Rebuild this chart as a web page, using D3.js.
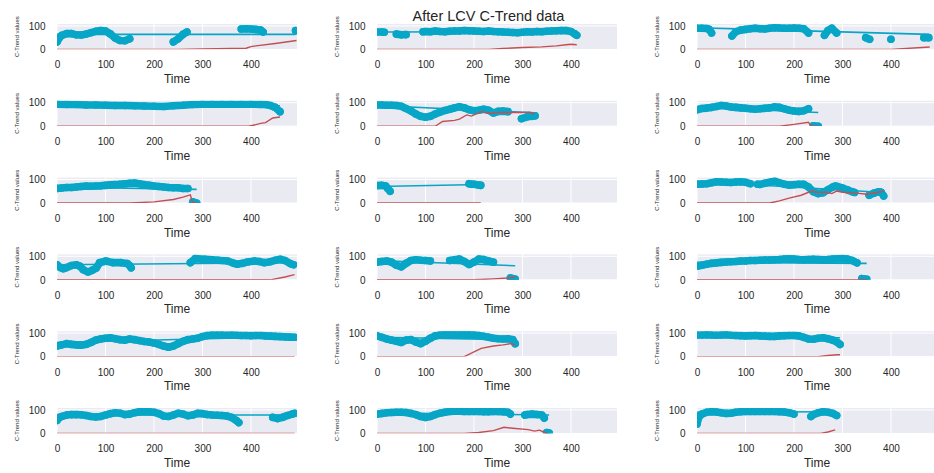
<!DOCTYPE html>
<html>
<head>
<meta charset="utf-8">
<script src="https://cdnjs.cloudflare.com/ajax/libs/d3/7.8.5/d3.min.js"></script>
<style>
  body { margin: 0; background: #fff; }
  text { font-family: "Liberation Sans", Arial, sans-serif; fill: #262626; }
</style>
</head>
<body>
<svg id="chart" width="934" height="473"></svg>
<script>
// Axis ticks and limits shared by every panel
const xTicks = [0, 100, 200, 300, 400];
const yTicks = [0, 100];
const xLimits = [0, 495];
const yLimits = [0.5, 108];

// C-Trend samples per panel: [time, value]; null marks a gap in the record
const ctrend_1_1 = [[0,32],[5,50],[10,60],[20,67],[30,67],[40,62],[50,61],[60,65],[70,71],[80,77],[90,80],[100,78],[110,66],[120,48],[130,38],[140,37],[150,45],null,[240,32],[250,45],[260,64],[268,74],null,[380,87],[390,88],[400,87],[410,85],[420,82],[425,74],null,[492,80]];
const ctrend_1_2 = [[0,74],[10,74],[15,73],null,[40,65],[50,62],[60,63],null,[95,75],[100,76],[110,75],[120,78],[130,76],[140,75],[150,77],[160,78],[170,78],[180,80],[190,79],[200,78],[210,77],[220,76],[230,78],[240,76],[250,75],[260,74],[270,73],[280,72],[290,71],[300,73],[310,75],[320,74],[330,76],[340,75],[350,77],[360,78],[370,79],[380,80],[390,80],[400,76],[408,66],[412,60]];
const ctrend_1_3 = [[0,90],[10,90],[20,89],[25,85],[30,70],null,[72,57],[80,75],[90,82],[100,85],[110,88],[120,90],[130,88],[140,87],[150,90],[160,92],[170,91],[180,90],[190,90],[200,91],[210,90],[220,88],[230,70],null,[263,60],[270,80],[278,90],[288,70],null,[348,50],[356,43],null,[400,43],null,[468,50],[478,50]];
const ctrend_2_1 = [[0,94],[20,93],[40,92],[60,90],[80,90],[100,89],[120,88],[140,88],[160,87],[180,86],[200,85],[220,84],[240,87],[260,89],[280,92],[300,94],[320,94],[340,94],[360,94],[380,94],[400,94],[420,93],[430,92],[440,88],[450,80],[460,62]];
const ctrend_2_2 = [[0,90],[10,90],[20,89],[30,89],[40,88],[50,85],[60,75],[70,65],[80,52],[90,42],[100,38],[110,42],[120,52],[130,60],[140,67],[150,72],[160,78],[170,83],[180,78],[190,70],[200,66],[210,68],[220,72],[230,68],[240,56],[250,63],[260,64],[270,62],null,[298,32],[310,40],[320,42],[326,44]];
const ctrend_2_3 = [[0,70],[10,75],[20,77],[30,80],[40,84],[50,88],[60,86],[70,82],[80,80],[90,78],[100,76],[110,74],[120,72],[130,74],[140,76],[150,78],[160,82],[170,80],[180,74],[190,68],[200,65],[210,63],[220,66],[230,74],null,[240,2],[250,0]];
const ctrend_3_1 = [[0,62],[10,64],[20,66],[30,66],[40,68],[50,70],[60,72],[70,71],[80,72],[90,73],[100,75],[110,77],[120,78],[130,80],[140,82],[150,84],[160,85],[170,82],[180,78],[190,75],[200,72],[210,70],[220,68],[230,66],[240,65],[250,65],[260,62],[270,62],null,[280,5],[288,0]];
const ctrend_3_2 = [[0,74],[10,75],[18,72],[22,62],[27,50],null,[190,82],[195,80],[200,80],[210,76],[214,75]];
const ctrend_3_3 = [[0,80],[10,81],[20,82],[30,86],[40,90],[50,89],[60,88],[70,87],[80,89],[90,90],[100,88],[110,82],null,[125,80],[130,79],[140,84],[150,88],[160,93],[170,86],[180,80],[190,76],[200,78],[210,80],[220,80],[230,68],[240,48],[250,40],[260,44],[270,56],[280,68],[285,72],[290,70],[300,64],[310,56],[320,48],[325,45],null,[355,33],[365,42],[375,48],[380,46],[385,30]];
const ctrend_4_1 = [[0,64],[7,52],[13,47],[20,52],[30,61],[40,64],[47,58],[54,43],[64,33],[72,40],[81,50],[88,73],[101,80],[115,73],[132,73],[145,69],[150,60],[153,51],null,[275,73],[285,90],[305,87],[320,85],[332,83],[352,80],[365,70],[372,66],[383,70],[393,76],[407,80],[417,78],[427,73],[440,77],[450,83],[461,87],[470,82],[481,69],[488,64]];
const ctrend_4_2 = [[0,75],[10,78],[20,80],[30,75],[40,62],[50,55],[60,70],[70,82],[80,85],[90,83],[100,82],[110,80],null,[150,82],[160,85],[170,88],[180,78],[190,65],[200,75],[210,88],[220,86],[230,80],[240,75],null,[275,8],[280,5],[285,3]];
const ctrend_4_3 = [[0,58],[10,62],[20,66],[30,70],[40,72],[50,74],[60,76],[70,77],[80,78],[90,80],[100,80],[110,82],[120,82],[130,83],[140,84],[150,84],[160,85],[170,86],[180,88],[190,89],[200,88],[210,86],[220,85],[230,86],[240,87],[250,86],[260,85],[270,86],[280,88],[290,89],[300,90],[310,88],[320,82],[330,72],null,[340,5],[345,3],[350,2]];
const ctrend_5_1 = [[0,45],[10,50],[20,55],[30,52],[40,50],[50,48],[60,52],[70,60],[80,70],[90,75],[100,78],[110,80],[120,76],[130,72],[140,70],[150,75],[160,72],[170,68],[180,64],[190,62],[200,58],[210,52],[220,45],[230,40],[240,45],[250,55],[260,65],[270,72],[280,75],[290,78],[300,85],[310,90],[320,92],[330,92],[340,92],[350,91],[360,92],[370,91],[380,90],[390,90],[400,89],[410,90],[420,90],[430,88],[440,87],[450,86],[460,85],[470,84],[480,83],[490,82]];
const ctrend_5_2 = [[0,88],[10,82],[20,75],[30,70],[40,65],[50,60],[60,70],[70,72],[80,62],[90,55],[100,65],[110,78],[120,88],[130,92],[140,94],[150,94],[160,93],[170,93],[180,94],[190,93],[200,92],[210,90],[220,86],[230,82],[240,78],[250,76],[260,75],[270,76],[280,72],[285,55]];
const ctrend_5_3 = [[0,92],[10,92],[20,93],[30,92],[40,91],[50,92],[60,93],[70,91],[80,90],[90,89],[100,88],[110,89],[120,90],[130,88],[140,87],[150,86],[160,86],[170,88],[180,89],[190,90],[200,90],[210,88],[220,82],[230,75],[240,74],[250,78],[260,80],[270,76],[280,70],[290,60],[295,52]];
const ctrend_6_1 = [[0,55],[5,68],[10,72],[20,78],[30,80],[40,80],[50,79],[60,76],[70,72],[80,70],[90,72],[100,78],[110,84],[120,88],[130,86],[140,80],[150,82],[160,88],[170,92],[180,93],[190,92],[200,90],[210,84],[220,74],[230,72],[240,78],[250,86],[260,82],[270,75],[280,78],[290,85],[300,84],[310,80],[320,78],[330,77],[340,76],[350,74],[360,68],[370,55],[375,46],null,[445,68],[455,63],[465,68],[475,76],[485,82],[490,85]];
const ctrend_6_2 = [[0,82],[10,85],[20,88],[30,89],[40,90],[50,90],[60,89],[70,85],[80,80],[90,72],[100,68],[110,72],[120,80],[130,86],[140,90],[150,93],[160,94],[170,94],[180,93],[190,93],[200,93],[210,93],[220,92],[230,92],[240,93],[250,93],[260,92],[270,90],[275,82],null,[305,78],[310,80],[320,82],[330,80],[340,78],[345,65],null,[350,4],[355,2]];
const ctrend_6_3 = [[0,40],[3,65],[6,75],[10,82],[20,90],[30,92],[40,91],[50,88],[60,85],[70,86],[80,90],[90,92],[100,93],[110,93],[120,93],[130,93],[140,93],[150,93],[160,93],[170,92],[180,91],[190,88],[200,82],null,[235,72],[240,80],[250,88],[260,92],[270,90],[280,85],[288,76]];

// LCV curves per panel: [time, value]
const lcv_1_1 = [[0,0],[250,0],[300,2],[390,5],[400,12],[410,15],[450,25],[494,38]];
const lcv_1_2 = [[0,0],[230,0],[260,4],[300,8],[340,11],[370,15],[390,20],[400,22],[412,20]];
const lcv_1_3 = [[0,0],[400,0],[480,10]];
const lcv_2_1 = [[0,0],[395,0],[405,4],[420,12],[430,15],[445,35],[460,39]];
const lcv_2_2 = [[0,0],[120,0],[135,20],[160,25],[170,30],[185,48],[195,43],[215,62],[235,54],[250,59],[270,58],[300,58],[315,60],[325,52]];
const lcv_2_3 = [[0,0],[170,0],[200,8],[230,17],[235,0],[250,0]];
const lcv_3_1 = [[0,0],[150,0],[200,5],[240,15],[260,25],[275,35],[280,0],[288,0]];
const lcv_3_2 = [[0,0],[214,0]];
const lcv_3_3 = [[0,0],[150,0],[170,9],[190,21],[215,33],[235,50],[255,44],[265,47],[278,40],[288,51],[300,46],[325,43],[350,37],[385,50]];
const lcv_4_1 = [[0,0],[440,0],[470,12],[490,22]];
const lcv_4_2 = [[0,0],[200,0],[240,4],[270,8],[285,12]];
const lcv_4_3 = [[0,0],[350,0]];
const lcv_5_1 = [[0,0],[490,0]];
const lcv_5_2 = [[0,0],[180,0],[200,20],[215,35],[240,45],[260,50],[275,55],[285,50]];
const lcv_5_3 = [[0,0],[250,0],[270,5],[290,8],[295,8]];
const lcv_6_1 = [[0,0],[490,0]];
const lcv_6_2 = [[0,0],[180,0],[210,4],[240,12],[262,26],[280,22],[312,16],[325,10],[335,14],[346,4],[352,0]];
const lcv_6_3 = [[0,0],[255,0],[270,6],[285,15]];

// Fitted trend line per panel: value at first and last sample time
const fit_1_1 = [64, 64];
const fit_1_2 = [74, 76];
const fit_1_3 = [92, 64];
const fit_2_1 = [90, 89];
const fit_2_2 = [88, 57];
const fit_2_3 = [82, 58];
const fit_3_1 = [68, 58];
const fit_3_2 = [70, 79];
const fit_3_3 = [92, 45];
const fit_4_1 = [64, 73];
const fit_4_2 = [82, 60];
const fit_4_3 = [74, 70];
const fit_5_1 = [60, 85];
const fit_5_2 = [82, 72];
const fit_5_3 = [92, 80];
const fit_6_1 = [78, 78];
const fit_6_2 = [88, 78];
const fit_6_3 = [90, 92];

const panels = [
  [ctrend_1_1, lcv_1_1, fit_1_1], [ctrend_1_2, lcv_1_2, fit_1_2], [ctrend_1_3, lcv_1_3, fit_1_3],
  [ctrend_2_1, lcv_2_1, fit_2_1], [ctrend_2_2, lcv_2_2, fit_2_2], [ctrend_2_3, lcv_2_3, fit_2_3],
  [ctrend_3_1, lcv_3_1, fit_3_1], [ctrend_3_2, lcv_3_2, fit_3_2], [ctrend_3_3, lcv_3_3, fit_3_3],
  [ctrend_4_1, lcv_4_1, fit_4_1], [ctrend_4_2, lcv_4_2, fit_4_2], [ctrend_4_3, lcv_4_3, fit_4_3],
  [ctrend_5_1, lcv_5_1, fit_5_1], [ctrend_5_2, lcv_5_2, fit_5_2], [ctrend_5_3, lcv_5_3, fit_5_3],
  [ctrend_6_1, lcv_6_1, fit_6_1], [ctrend_6_2, lcv_6_2, fit_6_2], [ctrend_6_3, lcv_6_3, fit_6_3]
];

// Layout
const colLeft = [57, 377, 697];
const rowTop = i => 24 + 76.8 * i;
const W = 240, H = 25.3;
const CYAN = "#07a6c7", RED = "#c44e52", BG = "#eaeaf2";

const svg = d3.select("#chart");
const x = d3.scaleLinear().domain(xLimits).range([0, W]);
const y = d3.scaleLinear().domain(yLimits).range([H, 0]);

const bandLine = d3.line().defined(d => d !== null).x(d => x(d[0])).y(d => y(d[1]));
const thinLine = d3.line().x(d => x(d[0])).y(d => y(d[1]));

panels.forEach(([series, lcv, fit], i) => {
  const r = Math.floor(i / 3), c = i % 3;
  const g = svg.append("g").attr("transform", `translate(${colLeft[c]},${rowTop(r)})`);

  g.append("rect").attr("width", W).attr("height", H).attr("fill", BG);

  // white grid
  g.selectAll(".vg").data(xTicks).join("line")
    .attr("x1", d => x(d)).attr("x2", d => x(d)).attr("y1", 0).attr("y2", H)
    .attr("stroke", "#fff").attr("stroke-width", 1);
  g.selectAll(".hg").data(yTicks).join("line")
    .attr("x1", 0).attr("x2", W).attr("y1", d => y(d)).attr("y2", d => y(d))
    .attr("stroke", "#fff").attr("stroke-width", 1);

  const clipId = "clip" + i;
  g.append("clipPath").attr("id", clipId).append("rect").attr("width", W).attr("height", H);
  const plot = g.append("g").attr("clip-path", `url(#${clipId})`);

  // dense C-Trend markers
  plot.append("path").attr("d", bandLine(series))
    .attr("fill", "none").attr("stroke", CYAN).attr("stroke-width", 7.6)
    .attr("stroke-linecap", "round").attr("stroke-linejoin", "round");
  plot.selectAll("circle").data(series.filter(d => d !== null)).join("circle")
    .attr("cx", d => x(d[0])).attr("cy", d => y(d[1])).attr("r", 3.8).attr("fill", CYAN);

  // trend fit across the sampled time span
  const span = d3.extent(series.filter(d => d !== null), d => d[0]);
  plot.append("path").attr("d", thinLine([[span[0], fit[0]], [span[1], fit[1]]]))
    .attr("fill", "none").attr("stroke", CYAN).attr("stroke-width", 1.6);

  // LCV curve
  plot.append("path").attr("d", thinLine(lcv))
    .attr("fill", "none").attr("stroke", RED).attr("stroke-width", 1.4);

  // axes (labels only)
  const ax = g.append("g").attr("transform", `translate(0,${H})`)
    .call(d3.axisBottom(x).tickValues(xTicks).tickSize(0).tickPadding(12).tickFormat(d3.format("d")));
  ax.select(".domain").remove();
  ax.selectAll("text").attr("font-size", 10).attr("fill", "#262626")
    .attr("font-family", "Liberation Sans, Arial, sans-serif");
  const ay = g.append("g")
    .call(d3.axisLeft(y).tickValues(yTicks).tickSize(0).tickPadding(11.5).tickFormat(d3.format("d")));
  ay.select(".domain").remove();
  ay.selectAll("text").attr("font-size", 10).attr("fill", "#262626")
    .attr("font-family", "Liberation Sans, Arial, sans-serif");

  g.append("text").attr("x", W / 2).attr("y", H + 33.7).attr("text-anchor", "middle")
    .attr("font-size", 12).text("Time");
  g.append("text").attr("transform", `translate(-40,${H / 2}) rotate(-90)`)
    .attr("text-anchor", "middle").attr("dominant-baseline", "central")
    .attr("font-size", 6).text("C-Trend values");
});

svg.append("text").attr("x", 488.5).attr("y", 20.5).attr("text-anchor", "middle")
  .attr("font-size", 14.5).text("After LCV C-Trend data");
</script>
</body>
</html>
